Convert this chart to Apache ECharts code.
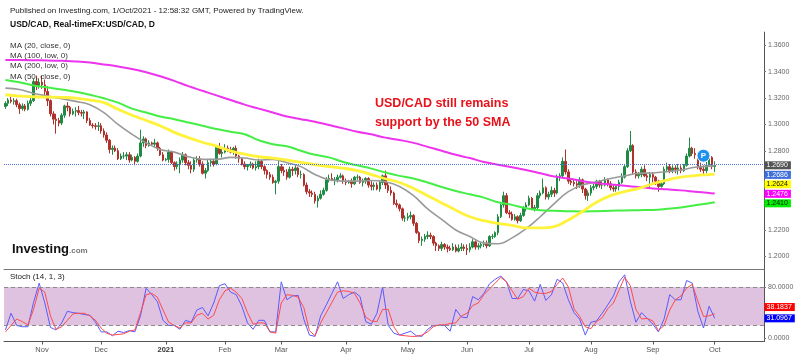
<!DOCTYPE html>
<html><head><meta charset="utf-8">
<script src="https://cdn.jsdelivr.net/npm/echarts@6/dist/echarts.min.js"></script>
<style>html,body{margin:0;padding:0;background:#fff}#c{width:800px;height:357px}</style>
</head><body><div id="c"></div>
<script>
// ---------------- data ----------------
const firstDate = '2020-10-14';
const padBars = 17;
const monthNames = ['Jan','Feb','Mar','Apr','May','Jun','Jul','Aug','Sep','Oct','Nov','Dec'];
const priceTicks = [1.20,1.22,1.24,1.26,1.28,1.30,1.32,1.34,1.36];
const stochTicks = [0, 80];
const stochBand = [20, 80];

// daily candles [open, close, low, high]
const ohlc = [
[1.3136,1.3160,1.3118,1.3175],[1.3160,1.3185,1.3140,1.3200],[1.3185,1.3175,1.3160,1.3210],
[1.3175,1.3180,1.3150,1.3200],[1.3180,1.3150,1.3130,1.3195],[1.3150,1.3120,1.3080,1.3165],[1.3120,1.3140,1.3105,1.3160],[1.3140,1.3115,1.3100,1.3155],
[1.3115,1.3160,1.3105,1.3180],[1.3160,1.3180,1.3140,1.3200],[1.3180,1.3325,1.3170,1.3345],[1.3325,1.3295,1.3260,1.3370],[1.3295,1.3320,1.3270,1.3350],
[1.3320,1.3300,1.3270,1.3370],[1.3300,1.3250,1.3200,1.3340],[1.3250,1.3180,1.3140,1.3290],[1.3180,1.3080,1.3060,1.3190],[1.3080,1.3040,1.3000,1.3100],
[1.3040,1.3030,1.2930,1.3080],[1.3030,1.3010,1.2985,1.3050],[1.3010,1.3070,1.2995,1.3085],[1.3070,1.3140,1.3050,1.3150],[1.3140,1.3130,1.3100,1.3170],
[1.3130,1.3080,1.3060,1.3140],[1.3080,1.3100,1.3070,1.3120],[1.3100,1.3105,1.3060,1.3130],[1.3105,1.3090,1.3070,1.3140],[1.3090,1.3085,1.3060,1.3110],
[1.3085,1.3095,1.3040,1.3110],[1.3095,1.3030,1.3010,1.3100],[1.3030,1.2995,1.2990,1.3050],[1.2995,1.2990,1.2970,1.3010],[1.2990,1.2985,1.2960,1.3010],
[1.2985,1.2990,1.2950,1.3020],[1.2990,1.2950,1.2930,1.3010],[1.2950,1.2920,1.2900,1.2970],[1.2920,1.2880,1.2860,1.2940],[1.2880,1.2810,1.2780,1.2890],
[1.2810,1.2820,1.2770,1.2840],[1.2820,1.2800,1.2790,1.2840],[1.2800,1.2740,1.2730,1.2820],[1.2740,1.2760,1.2730,1.2780],[1.2760,1.2760,1.2740,1.2790],
[1.2760,1.2770,1.2730,1.2790],[1.2770,1.2730,1.2710,1.2790],[1.2730,1.2750,1.2720,1.2770],[1.2750,1.2720,1.2690,1.2760],[1.2720,1.2760,1.2710,1.2780],
[1.2760,1.2860,1.2750,1.2960],[1.2860,1.2890,1.2830,1.2910],[1.2890,1.2840,1.2820,1.2900],[1.2840,1.2860,1.2830,1.2880],[1.2860,1.2850,1.2840,1.2870],
[1.2850,1.2860,1.2830,1.2890],[1.2860,1.2820,1.2800,1.2870],[1.2820,1.2770,1.2760,1.2830],[1.2770,1.2730,1.2720,1.2790],[1.2730,1.2735,1.2720,1.2745],
[1.2735,1.2790,1.2710,1.2810],[1.2790,1.2710,1.2700,1.2800],[1.2710,1.2680,1.2650,1.2720],[1.2680,1.2700,1.2660,1.2720],[1.2700,1.2730,1.2630,1.2750],
[1.2730,1.2770,1.2710,1.2790],[1.2770,1.2710,1.2690,1.2780],[1.2710,1.2690,1.2660,1.2730],[1.2690,1.2660,1.2630,1.2720],[1.2660,1.2730,1.2640,1.2750],
[1.2730,1.2740,1.2710,1.2760],[1.2740,1.2700,1.2680,1.2760],[1.2700,1.2630,1.2620,1.2720],[1.2630,1.2650,1.2590,1.2670],[1.2650,1.2710,1.2640,1.2730],
[1.2710,1.2720,1.2680,1.2740],[1.2720,1.2700,1.2680,1.2740],[1.2700,1.2830,1.2690,1.2840],[1.2830,1.2780,1.2770,1.2860],[1.2780,1.2790,1.2750,1.2830],
[1.2790,1.2820,1.2780,1.2850],[1.2820,1.2810,1.2790,1.2840],[1.2810,1.2790,1.2780,1.2830],[1.2790,1.2820,1.2770,1.2830],[1.2820,1.2760,1.2740,1.2840],
[1.2760,1.2740,1.2710,1.2770],[1.2740,1.2700,1.2690,1.2750],[1.2700,1.2680,1.2660,1.2720],[1.2680,1.2690,1.2650,1.2700],[1.2690,1.2700,1.2670,1.2720],
[1.2700,1.2670,1.2660,1.2710],[1.2670,1.2680,1.2650,1.2720],[1.2680,1.2720,1.2660,1.2740],[1.2720,1.2680,1.2660,1.2730],[1.2680,1.2650,1.2620,1.2690],
[1.2650,1.2620,1.2590,1.2660],[1.2620,1.2600,1.2580,1.2640],[1.2600,1.2560,1.2550,1.2620],[1.2560,1.2570,1.2470,1.2580],[1.2570,1.2680,1.2550,1.2740],
[1.2680,1.2650,1.2630,1.2700],[1.2650,1.2640,1.2610,1.2680],[1.2640,1.2600,1.2580,1.2660],[1.2600,1.2660,1.2590,1.2680],[1.2660,1.2650,1.2610,1.2680],
[1.2650,1.2670,1.2620,1.2700],[1.2670,1.2620,1.2600,1.2680],[1.2620,1.2620,1.2590,1.2650],[1.2620,1.2540,1.2530,1.2630],[1.2540,1.2490,1.2470,1.2560],
[1.2490,1.2480,1.2450,1.2510],[1.2480,1.2470,1.2450,1.2500],[1.2470,1.2420,1.2400,1.2490],[1.2420,1.2440,1.2370,1.2460],[1.2440,1.2470,1.2430,1.2500],
[1.2470,1.2500,1.2460,1.2520],[1.2500,1.2580,1.2490,1.2600],[1.2580,1.2590,1.2560,1.2620],[1.2590,1.2580,1.2570,1.2630],[1.2580,1.2580,1.2540,1.2600],
[1.2580,1.2600,1.2560,1.2620],[1.2600,1.2610,1.2590,1.2630],[1.2610,1.2570,1.2550,1.2620],[1.2570,1.2560,1.2540,1.2590],[1.2560,1.2570,1.2550,1.2580],
[1.2570,1.2550,1.2520,1.2590],[1.2550,1.2600,1.2540,1.2610],[1.2600,1.2600,1.2580,1.2620],[1.2600,1.2560,1.2550,1.2610],[1.2560,1.2570,1.2530,1.2590],
[1.2570,1.2590,1.2550,1.2600],[1.2590,1.2540,1.2520,1.2600],[1.2540,1.2530,1.2500,1.2570],[1.2530,1.2540,1.2500,1.2560],[1.2540,1.2510,1.2500,1.2560],
[1.2510,1.2560,1.2490,1.2570],[1.2560,1.2610,1.2540,1.2620],[1.2610,1.2540,1.2510,1.2650],[1.2540,1.2500,1.2480,1.2560],[1.2500,1.2480,1.2460,1.2530],
[1.2480,1.2400,1.2390,1.2490],[1.2400,1.2390,1.2370,1.2430],[1.2390,1.2360,1.2340,1.2400],[1.2360,1.2290,1.2270,1.2370],[1.2290,1.2290,1.2260,1.2310],
[1.2290,1.2300,1.2270,1.2330],[1.2300,1.2310,1.2280,1.2340],[1.2310,1.2250,1.2230,1.2320],[1.2250,1.2180,1.2170,1.2260],[1.2180,1.2120,1.2100,1.2190],
[1.2120,1.2130,1.2080,1.2150],[1.2130,1.2150,1.2110,1.2170],[1.2150,1.2160,1.2130,1.2190],[1.2160,1.2150,1.2130,1.2180],[1.2150,1.2100,1.2080,1.2160],
[1.2100,1.2080,1.2040,1.2110],[1.2080,1.2060,1.2040,1.2090],[1.2060,1.2090,1.2040,1.2110],[1.2090,1.2070,1.2050,1.2100],[1.2070,1.2060,1.2030,1.2090],
[1.2060,1.2050,1.2040,1.2080],[1.2050,1.2070,1.2040,1.2100],[1.2070,1.2040,1.2030,1.2090],[1.2040,1.2060,1.2030,1.2090],[1.2060,1.2070,1.2040,1.2100],
[1.2070,1.2060,1.2040,1.2090],[1.2060,1.2050,1.2010,1.2090],[1.2050,1.2070,1.2030,1.2100],[1.2070,1.2110,1.2060,1.2130],[1.2110,1.2070,1.2050,1.2120],
[1.2070,1.2080,1.2050,1.2100],[1.2080,1.2090,1.2060,1.2110],[1.2090,1.2100,1.2070,1.2120],[1.2100,1.2080,1.2060,1.2120],[1.2080,1.2150,1.2070,1.2160],
[1.2150,1.2150,1.2130,1.2170],[1.2150,1.2180,1.2140,1.2190],[1.2180,1.2300,1.2160,1.2320],[1.2300,1.2390,1.2290,1.2400],[1.2390,1.2460,1.2370,1.2490],
[1.2460,1.2330,1.2320,1.2480],[1.2330,1.2320,1.2290,1.2350],[1.2320,1.2280,1.2270,1.2340],[1.2280,1.2300,1.2270,1.2320],[1.2300,1.2270,1.2250,1.2310],
[1.2270,1.2310,1.2260,1.2330],[1.2310,1.2370,1.2300,1.2380],[1.2370,1.2390,1.2340,1.2410],[1.2390,1.2440,1.2380,1.2460],[1.2440,1.2360,1.2350,1.2450],
[1.2360,1.2370,1.2340,1.2390],[1.2370,1.2460,1.2350,1.2480],[1.2460,1.2480,1.2440,1.2500],[1.2480,1.2520,1.2470,1.2590],[1.2520,1.2450,1.2430,1.2530],
[1.2450,1.2470,1.2430,1.2490],[1.2470,1.2500,1.2450,1.2530],[1.2500,1.2480,1.2450,1.2520],[1.2480,1.2600,1.2470,1.2620],[1.2600,1.2610,1.2570,1.2630],
[1.2610,1.2720,1.2600,1.2750],[1.2720,1.2640,1.2620,1.2810],[1.2640,1.2570,1.2550,1.2660],[1.2570,1.2560,1.2540,1.2590],[1.2560,1.2550,1.2530,1.2580],
[1.2550,1.2540,1.2510,1.2570],[1.2540,1.2580,1.2520,1.2600],[1.2580,1.2510,1.2480,1.2590],[1.2510,1.2460,1.2430,1.2520],[1.2460,1.2480,1.2420,1.2500],
[1.2480,1.2520,1.2460,1.2540],[1.2520,1.2530,1.2500,1.2550],[1.2530,1.2570,1.2510,1.2580],[1.2570,1.2540,1.2520,1.2580],[1.2540,1.2540,1.2510,1.2570],
[1.2540,1.2580,1.2530,1.2600],[1.2580,1.2550,1.2530,1.2590],[1.2550,1.2520,1.2500,1.2570],[1.2520,1.2510,1.2490,1.2540],[1.2510,1.2530,1.2490,1.2540],
[1.2530,1.2560,1.2500,1.2580],[1.2560,1.2600,1.2550,1.2630],[1.2600,1.2680,1.2590,1.2700],[1.2680,1.2800,1.2670,1.2820],[1.2800,1.2840,1.2790,1.2950],
[1.2840,1.2640,1.2620,1.2850],[1.2640,1.2610,1.2590,1.2660],[1.2610,1.2620,1.2590,1.2640],[1.2620,1.2660,1.2600,1.2680],[1.2660,1.2610,1.2600,1.2690],
[1.2610,1.2600,1.2570,1.2630],[1.2600,1.2620,1.2520,1.2640],[1.2620,1.2600,1.2560,1.2640],[1.2600,1.2570,1.2540,1.2610],[1.2570,1.2530,1.2490,1.2580],
[1.2530,1.2550,1.2520,1.2570],[1.2550,1.2660,1.2540,1.2680],[1.2660,1.2680,1.2640,1.2710],[1.2680,1.2650,1.2630,1.2700],[1.2650,1.2670,1.2630,1.2690],
[1.2670,1.2660,1.2630,1.2690],[1.2660,1.2670,1.2620,1.2700],[1.2670,1.2650,1.2630,1.2690],[1.2650,1.2690,1.2640,1.2700],[1.2690,1.2760,1.2680,1.2780],
[1.2760,1.2820,1.2750,1.2900],[1.2820,1.2780,1.2760,1.2830],[1.2780,1.2770,1.2740,1.2820],[1.2770,1.2680,1.2660,1.2780],[1.2680,1.2660,1.2640,1.2710],
[1.2660,1.2650,1.2620,1.2690],[1.2650,1.2690,1.2630,1.2720],[1.2690,1.2750,1.2680,1.2770],[1.2750,1.2680,1.2660,1.2760],[1.2680,1.2690,1.2640,1.2720]
];

// moving averages, read every 5 bars (bar index in maAt)
const maAt   = [0,5,10,15,20,25,30,35,40,45,50,55,60,65,70,75,80,85,90,95,100,105,110,115,120,125,130,135,140,145,150,155,160,165,170,175,180,185,190,195,200,205,210,215,220,225,230,235,240,245,250,252];
const ma20c  = [1.3275,1.3265,1.3235,1.3215,1.3195,1.3175,1.3150,1.3090,1.3000,1.2925,1.2860,1.2810,1.2790,1.2755,1.2735,1.2735,1.2750,1.2745,1.2730,1.2735,1.2710,1.2680,1.2620,1.2580,1.2570,1.2570,1.2575,1.2565,1.2530,1.2460,1.2360,1.2280,1.2200,1.2150,1.2100,1.2095,1.2140,1.2210,1.2300,1.2400,1.2490,1.2540,1.2565,1.2590,1.2610,1.2630,1.2632,1.2642,1.2655,1.2675,1.2684,1.2686];
const ma50c  = [1.3225,1.3215,1.3210,1.3207,1.3205,1.3200,1.3185,1.3165,1.3115,1.3070,1.3030,1.2990,1.2940,1.2900,1.2865,1.2835,1.2800,1.2775,1.2755,1.2745,1.2730,1.2712,1.2695,1.2680,1.2668,1.2650,1.2620,1.2588,1.2560,1.2515,1.2460,1.2405,1.2350,1.2300,1.2270,1.2250,1.2235,1.2215,1.2215,1.2225,1.2275,1.2340,1.2410,1.2460,1.2490,1.2515,1.2550,1.2578,1.2600,1.2612,1.2620,1.2624];
const ma100l = [1.3337,1.3320,1.3295,1.3280,1.3265,1.3248,1.3225,1.3198,1.3165,1.3120,1.3090,1.3060,1.3040,1.3015,1.2990,1.2965,1.2945,1.2925,1.2880,1.2850,1.2835,1.2800,1.2770,1.2750,1.2715,1.2690,1.2665,1.2635,1.2610,1.2590,1.2560,1.2525,1.2495,1.2470,1.2445,1.2410,1.2390,1.2365,1.2350,1.2345,1.2342,1.2340,1.2342,1.2345,1.2348,1.2350,1.2352,1.2360,1.2370,1.2388,1.2402,1.2410];
const ma200l = [1.3488,1.3488,1.3487,1.3485,1.3482,1.3478,1.3470,1.3455,1.3440,1.3420,1.3395,1.3365,1.3330,1.3290,1.3255,1.3220,1.3185,1.3150,1.3120,1.3090,1.3060,1.3040,1.3020,1.2995,1.2970,1.2945,1.2925,1.2900,1.2882,1.2860,1.2830,1.2800,1.2770,1.2745,1.2715,1.2695,1.2675,1.2655,1.2630,1.2605,1.2590,1.2570,1.2555,1.2545,1.2535,1.2525,1.2515,1.2508,1.2500,1.2490,1.2480,1.2476];

// stochastic (14,1,3), read every 2 bars
const stochStep = 2;
const stochK = [13,39,20,18,18,56,86,55,17,13,24,42,40,39,37,36,25,10,10,4,11,9,12,10,35,
78,68,57,28,20,20,14,28,25,44,48,35,55,82,85,72,68,50,24,14,28,28,10,10,88,
60,66,67,30,5,3,35,52,70,88,62,68,72,65,26,22,39,80,20,8,5,8,11,4,3,
14,20,20,20,11,45,33,32,65,60,70,85,92,97,88,62,62,76,74,58,84,59,68,92,86,
60,40,30,5,25,27,39,52,66,88,99,58,25,40,31,22,10,30,68,60,60,90,86,42,16,
50,31.0967];
const stochD = [10,20,30,26,21,45,78,72,35,14,18,28,38,39,39,35,28,16,8,5,6,7,11,13,40,
68,70,64,44,25,20,16,24,24,36,39,30,36,60,74,78,72,62,40,22,24,24,10,8,55,
68,67,64,48,12,4,24,40,56,72,74,73,70,55,33,27,26,45,45,18,5,4,3,3,5,
10,18,21,21,23,24,35,39,51,55,68,77,86,95,88,74,61,65,78,72,70,70,73,84,94,
80,46,34,18,15,26,32,46,55,75,95,82,45,30,31,27,12,20,44,60,66,78,84,58,34,
35,38.1837];

const pinBar = 248, pinValue = 1.2763;

// ---------------- build ----------------
function tradingDays(startISO, n) {
  const out = []; const d = new Date(startISO + 'T00:00:00Z');
  while (out.length < n) {
    const wd = d.getUTCDay();
    if (wd !== 0 && wd !== 6) out.push(d.toISOString().slice(0, 10));
    d.setUTCDate(d.getUTCDate() + 1);
  }
  return out;
}
const dates = tradingDays(firstDate, ohlc.length + padBars);
const isMonthStart = (i) => i > 0 && dates[i].slice(5, 7) !== dates[i - 1].slice(5, 7);
const monthLabel = (v) => { const m = +v.slice(5, 7); return m === 1 ? '{y|' + v.slice(0, 4) + '}' : monthNames[m - 1]; };

const maData = (arr) => maAt.map((x, k) => [x, arr[k]]);
const stData = (arr) => arr.map((v, k) => [Math.min(k * stochStep, ohlc.length - 1), v]);
const lastClose = ohlc[ohlc.length - 1][1];

const FONT = '"Liberation Sans", Arial, sans-serif';
const G = { left: 4, right: 36 };

const option = {
  animation: false,
  backgroundColor: '#ffffff',
  textStyle: { fontFamily: FONT },
  title: [
    { left: 10, top: 6, padding: 0, text: 'Published on Investing.com, 1/Oct/2021 - 12:58:32 GMT, Powered by TradingView.',
      textStyle: { fontSize: 8, lineHeight: 10, fontWeight: 'normal', color: '#222', fontFamily: FONT } },
    { left: 10, top: 20, padding: 0, text: 'USD/CAD, Real-timeFX:USD/CAD, D',
      textStyle: { fontSize: 8.5, lineHeight: 10, fontWeight: 'bold', color: '#111', fontFamily: FONT } },
    { left: 10, top: 40.5, padding: 0, text: 'MA (20, close, 0)\nMA (100, low, 0)\nMA (200, low, 0)\nMA (50, close, 0)',
      textStyle: { fontSize: 8, lineHeight: 10.3, fontWeight: 'normal', color: '#333', fontFamily: FONT } },
    { left: 375, top: 94.5, padding: 0, text: 'USD/CAD still remains\nsupport by the 50 SMA',
      textStyle: { fontSize: 12.5, lineHeight: 18.5, fontWeight: 'bold', color: '#e8121b', fontFamily: FONT } },
    { left: 12, top: 243, padding: 0, text: '{a|Investing}{b|.com}',
      textStyle: { rich: { a: { fontSize: 13, fontWeight: 'bold', color: '#111', fontFamily: FONT },
                           b: { fontSize: 8, color: '#777', fontFamily: FONT, padding: [3, 0, 0, 0] } } } },
    { left: 10, top: 271.5, padding: 0, text: 'Stoch (14, 1, 3)',
      textStyle: { fontSize: 8, lineHeight: 10, fontWeight: 'normal', color: '#222', fontFamily: FONT } }
  ],
  grid: [
    { left: G.left, right: G.right, top: 32.1, bottom: 74.3 },
    { left: G.left, right: G.right, top: 269, bottom: 15.5 }
  ],
  xAxis: [
    { type: 'category', gridIndex: 0, data: dates, show: false, axisLine: { onZero: false } },
    { type: 'category', gridIndex: 1, data: dates, position: 'bottom',
      axisLine: { onZero: false, lineStyle: { color: '#555', width: 1 } },
      axisTick: { show: true, length: 3, alignWithLabel: true, interval: (i) => isMonthStart(i), lineStyle: { color: '#555' } },
      axisLabel: { interval: (i) => isMonthStart(i), formatter: monthLabel, fontSize: 7.5, color: '#555', margin: 4,
                   fontFamily: FONT, rich: { y: { fontSize: 7.5, fontWeight: 'bold', color: '#333', fontFamily: FONT } } },
      splitLine: { show: false } },
    { type: 'category', gridIndex: 1, data: dates, position: 'top',
      axisLine: { onZero: false, lineStyle: { color: '#777', width: 1 } },
      axisTick: { show: false }, axisLabel: { show: false }, splitLine: { show: false } }
  ],
  yAxis: [
    { type: 'value', gridIndex: 0, position: 'right', min: 1.18, max: 1.37, scale: true,
      axisLine: { show: true, lineStyle: { color: '#555', width: 1 } },
      axisTick: { show: true, length: 2, customValues: priceTicks, lineStyle: { color: '#777' } },
      axisLabel: { customValues: priceTicks, formatter: (v) => v.toFixed(4), fontSize: 7, color: '#666', margin: 4, fontFamily: FONT },
      splitLine: { show: false } },
    { type: 'value', gridIndex: 1, position: 'right', min: -5, max: 108,
      axisLine: { show: true, lineStyle: { color: '#555', width: 1 } },
      axisTick: { show: true, length: 2, customValues: stochTicks, lineStyle: { color: '#777' } },
      axisLabel: { customValues: stochTicks, formatter: (v) => v.toFixed(4), fontSize: 7, color: '#666', margin: 4, fontFamily: FONT },
      splitLine: { show: false } }
  ],
  series: [
    { type: 'candlestick', name: 'USD/CAD', xAxisIndex: 0, yAxisIndex: 0, data: ohlc, barWidth: 2,
      itemStyle: { color: '#1f8a43', color0: '#b0312b', borderColor: '#1f8a43', borderColor0: '#b0312b', borderWidth: 1 },
      markLine: { silent: true, symbol: ['none', 'none'], label: { show: false },
                  lineStyle: { type: 'dotted', color: '#4f74df', width: 1 }, data: [{ yAxis: lastClose }] },
      markPoint: { silent: true, data: [{ coord: [pinBar, pinValue], symbol: 'circle', symbolSize: 13,
                   itemStyle: { color: '#1e90ee', borderColor: '#fff', borderWidth: 1 },
                   label: { show: true, formatter: 'P', color: '#fff', fontSize: 8, fontWeight: 'bold', fontFamily: FONT } }] } },
    { type: 'line', name: 'MA20', xAxisIndex: 0, yAxisIndex: 0, data: maData(ma20c), showSymbol: false, smooth: 0.4,
      lineStyle: { color: '#9a9a9a', width: 1.6 }, z: 3 },
    { type: 'line', name: 'MA100', xAxisIndex: 0, yAxisIndex: 0, data: maData(ma100l), showSymbol: false, smooth: 0.4,
      lineStyle: { color: '#44ee44', width: 2 }, z: 3 },
    { type: 'line', name: 'MA200', xAxisIndex: 0, yAxisIndex: 0, data: maData(ma200l), showSymbol: false, smooth: 0.4,
      lineStyle: { color: '#ee33ee', width: 2 }, z: 3 },
    { type: 'line', name: 'MA50', xAxisIndex: 0, yAxisIndex: 0, data: maData(ma50c), showSymbol: false, smooth: 0.4,
      lineStyle: { color: '#fff23a', width: 2.8 }, z: 3 },
    { type: 'line', name: '%K', xAxisIndex: 1, yAxisIndex: 1, data: stData(stochK), showSymbol: false,
      lineStyle: { color: '#5a5aff', width: 1 },
      markArea: { silent: true, itemStyle: { color: '#dfc2df' }, data: [[{ yAxis: stochBand[0] }, { yAxis: stochBand[1] }]] },
      markLine: { silent: true, symbol: ['none', 'none'], label: { show: false },
                  lineStyle: { type: [4, 3], color: '#8a8a8a', width: 1 }, data: [{ yAxis: stochBand[0] }, { yAxis: stochBand[1] }] } },
    { type: 'line', name: '%D', xAxisIndex: 1, yAxisIndex: 1, data: stData(stochD), showSymbol: false,
      lineStyle: { color: '#ff4a4a', width: 1 } }
  ]
};

const chart = echarts.init(document.getElementById('c'), null, { renderer: 'canvas' });
chart.setOption(option);

// value tags on the right axis
const axisX = 800 - G.right;
function tags(items, axisIndex, dir, gap) {
  const list = items.map(it => Object.assign({}, it, { y: chart.convertToPixel({ yAxisIndex: axisIndex }, it.v) }));
  list.sort((a, b) => a.y - b.y);
  if (dir > 0) { for (let k = 1; k < list.length; k++) if (list[k].y < list[k - 1].y + gap) list[k].y = list[k - 1].y + gap; }
  else { for (let k = list.length - 2; k >= 0; k--) if (list[k].y > list[k + 1].y - gap) list[k].y = list[k + 1].y - gap; }
  return list.map(it => ({ type: 'text', z: 100, x: axisX + 0.5, y: it.y,
    style: { text: it.text, fill: it.fg, backgroundColor: it.bg, padding: [1, 3, 0, 2],
             fontSize: 7, fontFamily: FONT, verticalAlign: 'middle', align: 'left' } }));
}
const last = (a) => a[a.length - 1];
const mainTags = tags([
  { v: lastClose,    text: lastClose.toFixed(4),    bg: '#555555', fg: '#fff' },
  { v: last(ma20c),  text: last(ma20c).toFixed(4),  bg: '#3f6fdc', fg: '#fff' },
  { v: last(ma50c),  text: last(ma50c).toFixed(4),  bg: '#ffff00', fg: '#111' },
  { v: last(ma200l), text: last(ma200l).toFixed(4), bg: '#ff00ff', fg: '#fff' },
  { v: last(ma100l), text: last(ma100l).toFixed(4), bg: '#00ee00', fg: '#111' }
], 0, 1, 9.5);
const stochTags = tags([
  { v: last(stochD), text: last(stochD).toFixed(4), bg: '#ff0000', fg: '#fff' },
  { v: last(stochK), text: last(stochK).toFixed(4), bg: '#0000ff', fg: '#fff' }
], 1, -1, 11.3);
chart.setOption({ graphic: mainTags.concat(stochTags) });
</script>
</body></html>
